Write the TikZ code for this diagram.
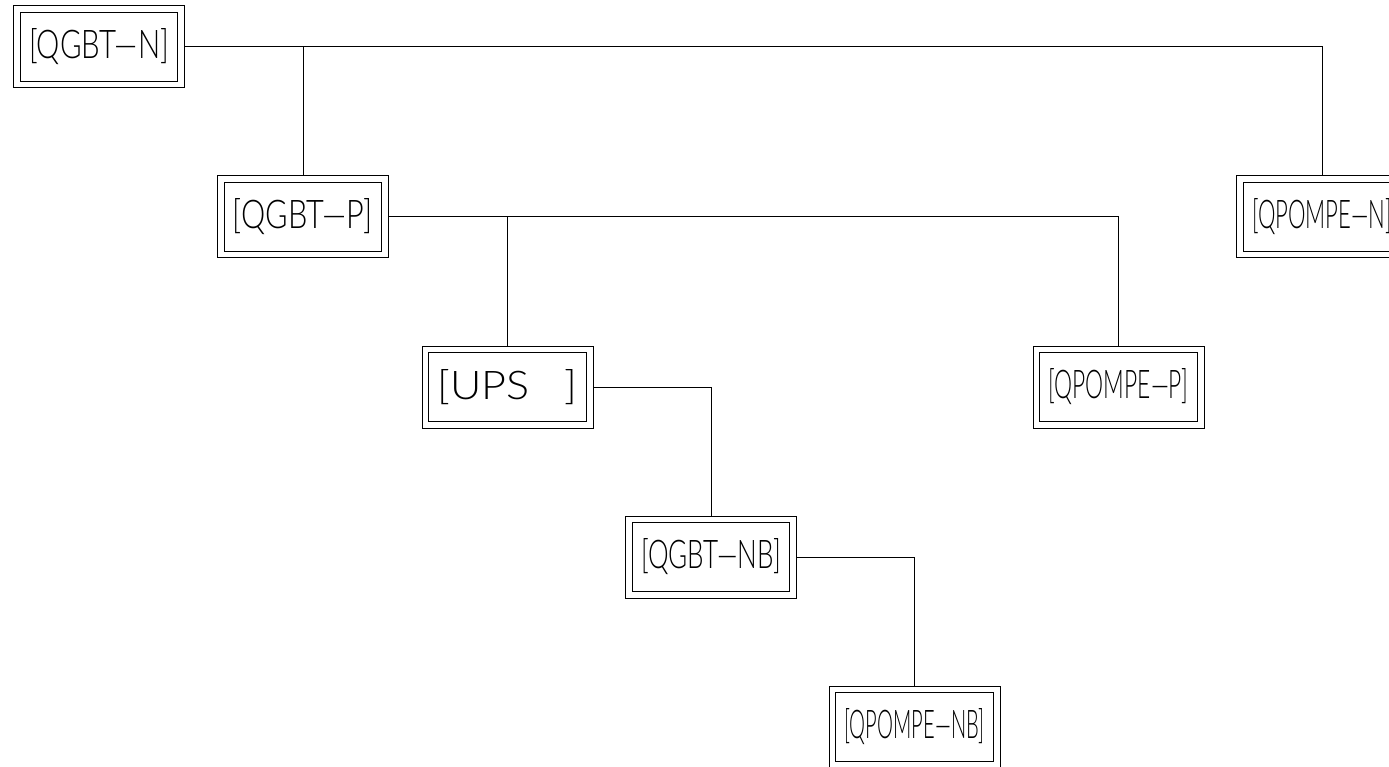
\documentclass[tikz,border=0pt]{standalone}
\usepackage{fontspec}
\usepackage{graphicx}
\newfontfamily\lblfont{Lato Light}
\newcommand\boxlabel[1]{\resizebox{140pt}{30pt}{\lblfont #1}}
\begin{document}
\begin{tikzpicture}[x=1pt,y=-1pt,
  box/.style={draw, double, double distance=5.8pt, line width=1pt,
    minimum width=164.2pt, minimum height=75.2pt, inner sep=0pt, outer sep=3.9pt},
  wire/.style={line width=1pt}]
\useasboundingbox (0,0) rectangle (1389,767);
\clip (0,0) rectangle (1389,767);
\node[box] (qgbtn)   at (99,47)     {\boxlabel{[QGBT—N]}};
\node[box] (qgbtp)   at (303,217)   {\boxlabel{[QGBT—P]}};
\node[box] (qpompen) at (1322,217)  {\boxlabel{[QPOMPE—N]}};
\node[box] (ups)     at (507.5,387) {\boxlabel{[UPS~~~]}};
\node[box] (qpompep) at (1118.5,387){\boxlabel{[QPOMPE—P]}};
\node[box] (qgbtnb)  at (711,557)   {\boxlabel{[QGBT—NB]}};
\node[box] (qpompenb) at (914.5,727){\boxlabel{[QPOMPE—NB]}};
\draw[wire] (qgbtn.east) -| (qpompen.north);
\draw[wire] (qgbtp.north) -- (qgbtp.north |- qgbtn.east);
\draw[wire] (qgbtp.east) -| (qpompep.north);
\draw[wire] (ups.north) -- (ups.north |- qgbtp.east);
\draw[wire] (ups.east) -| (qgbtnb.north);
\draw[wire] (qgbtnb.east) -| (qpompenb.north);
\end{tikzpicture}
\end{document}
